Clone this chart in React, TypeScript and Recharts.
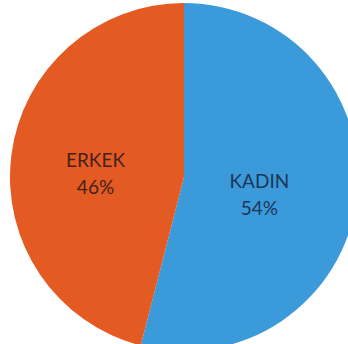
import React from "react";
import { PieChart, Pie, Cell } from "recharts";

const categories = ["KADIN", "ERKEK"];
const values = [54, 46];
const colors = ["#3A9ADA", "#E35A23"];
const textColors = ["#1E3656", "#45211A"];

const data = categories.map((name, i) => ({ name, value: values[i] }));

const RAD = Math.PI / 180;

const renderLabel = (props: any) => {
  const { cx, cy, midAngle, outerRadius, startAngle, endAngle, index, name, value } = props;
  const phi = Math.abs(endAngle - startAngle) * RAD;
  const centroid = (2 * outerRadius * Math.sin(phi / 2)) / (3 * (phi / 2));
  const r = centroid * 1.12;
  const x = cx + r * Math.cos(-midAngle * RAD);
  const y = cy + r * Math.sin(-midAngle * RAD) + 8;
  return (
    <text
      x={x}
      y={y}
      textAnchor="middle"
      fill={textColors[index]}
      fontFamily="Lato, 'Open Sans', sans-serif"
      fontSize={19}
    >
      <tspan x={x} dy={-7}>{name}</tspan>
      <tspan x={x} dy={27}>{`${value}%`}</tspan>
    </text>
  );
};

export default function App() {
  return (
    <div
      style={{
        position: "absolute",
        left: 0,
        top: 0,
        width: 348,
        height: 344,
        background: "#fff",
        overflow: "hidden",
      }}
    >
      <PieChart width={348} height={344} margin={{ top: 0, right: 0, bottom: 0, left: 0 }}>
        <Pie
          data={data}
          dataKey="value"
          nameKey="name"
          cx={184}
          cy={177}
          outerRadius={174}
          startAngle={90}
          endAngle={-270}
          stroke="none"
          label={renderLabel}
          labelLine={false}
          isAnimationActive={false}
        >
          {data.map((d, i) => (
            <Cell key={d.name} fill={colors[i]} />
          ))}
        </Pie>
      </PieChart>
    </div>
  );
}
